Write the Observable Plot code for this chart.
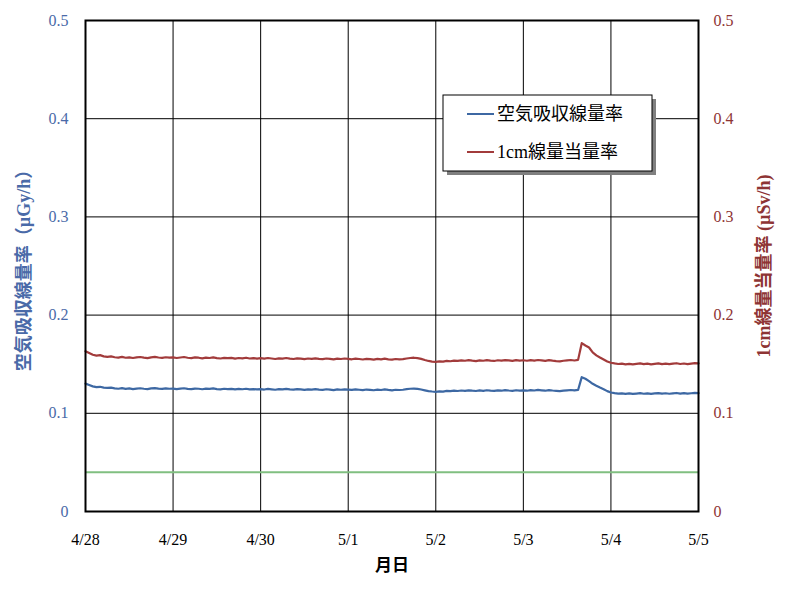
<!DOCTYPE html>
<html>
<head>
<meta charset="utf-8">
<script src="https://cdn.jsdelivr.net/npm/d3@7"></script>
<script src="https://cdn.jsdelivr.net/npm/@observablehq/plot@0.6"></script>
<style>
  html, body { margin: 0; padding: 0; background: #fff; }
</style>
</head>
<body>
<div id="chart"></div>
<script>
// ---- data (hourly readings, start 2011-04-28 00:00) ----
const startTime = Date.UTC(2011, 3, 28);
const dayTicks = ["4/28", "4/29", "4/30", "5/1", "5/2", "5/3", "5/4", "5/5"];
const yTicks = [0, 0.1, 0.2, 0.3, 0.4, 0.5];
const seriesNames = ["空気吸収線量率", "1cm線量当量率"];

// 空気吸収線量率 (µGy/h)
const airDose = [
  0.1302,0.1288,0.1274,0.1266,0.1270,0.1262,0.1258,0.1261,0.1254,0.1250,0.1256,0.1249,0.1253,0.1247,0.1252,0.1255,0.1250,0.1246,0.1253,0.1257,0.1251,0.1248,0.1254,0.1250,
  0.1252,0.1247,0.1251,0.1255,0.1249,0.1246,0.1252,0.1250,0.1245,0.1251,0.1248,0.1253,0.1247,0.1244,0.1250,0.1246,0.1249,0.1243,0.1248,0.1245,0.1250,0.1244,0.1247,0.1243,
  0.1246,0.1242,0.1248,0.1244,0.1240,0.1246,0.1243,0.1249,0.1244,0.1241,0.1247,0.1243,0.1238,0.1244,0.1241,0.1246,0.1242,0.1239,0.1245,0.1241,0.1236,0.1243,0.1240,0.1244,
  0.1241,0.1238,0.1244,0.1240,0.1236,0.1242,0.1239,0.1235,0.1241,0.1237,0.1243,0.1238,0.1234,0.1240,0.1237,0.1240,0.1246,0.1250,0.1252,0.1249,0.1242,0.1234,0.1226,0.1222,
  0.1219,0.1224,0.1221,0.1228,0.1225,0.1230,0.1227,0.1232,0.1229,0.1234,0.1230,0.1227,0.1233,0.1229,0.1235,0.1231,0.1228,0.1234,0.1230,0.1236,0.1232,0.1229,0.1235,0.1231,
  0.1234,0.1230,0.1236,0.1232,0.1238,0.1234,0.1230,0.1236,0.1232,0.1229,0.1226,0.1231,0.1234,0.1237,0.1233,0.1238,0.1368,0.1352,0.1328,0.1300,0.1280,0.1262,0.1245,0.1226,
  0.1212,0.1205,0.1200,0.1203,0.1198,0.1202,0.1197,0.1201,0.1205,0.1199,0.1203,0.1198,0.1202,0.1206,0.1200,0.1204,0.1199,0.1203,0.1207,0.1201,0.1205,0.1200,0.1204,0.1208,
  0.1206
];

// 1cm線量当量率 (µSv/h)
const doseEquiv = [
  0.1632,0.1614,0.1596,0.1588,0.1592,0.1580,0.1575,0.1579,0.1571,0.1567,0.1574,0.1566,0.1570,0.1563,0.1569,0.1573,0.1567,0.1562,0.1570,0.1575,0.1568,0.1564,0.1571,0.1567,
  0.1569,0.1563,0.1568,0.1573,0.1566,0.1562,0.1569,0.1566,0.1560,0.1567,0.1563,0.1569,0.1562,0.1558,0.1565,0.1561,0.1564,0.1557,0.1563,0.1560,0.1566,0.1558,0.1562,0.1557,
  0.1561,0.1556,0.1563,0.1558,0.1553,0.1560,0.1557,0.1563,0.1557,0.1553,0.1560,0.1556,0.1551,0.1558,0.1554,0.1560,0.1555,0.1551,0.1558,0.1554,0.1549,0.1556,0.1553,0.1558,
  0.1554,0.1550,0.1557,0.1553,0.1548,0.1555,0.1551,0.1547,0.1554,0.1549,0.1556,0.1550,0.1546,0.1553,0.1549,0.1551,0.1558,0.1563,0.1566,0.1562,0.1554,0.1543,0.1533,0.1527,
  0.1524,0.1529,0.1526,0.1534,0.1530,0.1537,0.1533,0.1539,0.1535,0.1541,0.1536,0.1532,0.1539,0.1535,0.1542,0.1537,0.1533,0.1540,0.1536,0.1542,0.1538,0.1534,0.1541,0.1537,
  0.1540,0.1535,0.1542,0.1537,0.1543,0.1539,0.1534,0.1541,0.1536,0.1532,0.1529,0.1535,0.1539,0.1543,0.1538,0.1544,0.1714,0.1690,0.1670,0.1620,0.1590,0.1568,0.1548,0.1528,
  0.1515,0.1508,0.1502,0.1506,0.1499,0.1504,0.1498,0.1503,0.1508,0.1500,0.1505,0.1499,0.1504,0.1509,0.1501,0.1506,0.1500,0.1505,0.1510,0.1502,0.1507,0.1501,0.1506,0.1511,
  0.1509
];

// reference level (green line)
const referenceLevel = 0.04;

// ---- build ----
const HOUR = 3600e3, DAY = 86400e3;
const toRows = arr => arr.map((v, i) => ({ t: new Date(startTime + i * HOUR), v }));
const airRows = toRows(airDose);
const eqRows = toRows(doseEquiv);
const tickDates = dayTicks.map((_, i) => new Date(startTime + i * DAY));

const BLUE = "#3d68a3", RED = "#a23b3b", GREEN = "#80bf80";
const BLUE_TXT = "#4a6aa8", RED_TXT = "#8e3434";
const SERIF = '"Liberation Serif", "Noto Sans CJK JP", serif';
const CJK = '"Liberation Serif", "Noto Sans CJK JP", sans-serif';

const chart = Plot.plot({
  width: 786,
  height: 591,
  marginLeft: 85,
  marginRight: 88,
  marginTop: 20,
  marginBottom: 80,
  style: { fontFamily: SERIF, fontSize: "16px", background: "#fff" },
  x: { type: "utc", domain: [tickDates[0], tickDates[tickDates.length - 1]], label: null },
  y: { domain: [0, 0.5], label: null },
  marks: [
    Plot.gridX(tickDates, { stroke: "#000", strokeOpacity: 1, strokeWidth: 1 }),
    Plot.gridY(yTicks.slice(1, -1), { stroke: "#000", strokeOpacity: 1, strokeWidth: 1 }),
    Plot.ruleY([referenceLevel], { stroke: GREEN, strokeWidth: 2 }),
    Plot.lineY(airRows, { x: "t", y: "v", stroke: BLUE, strokeWidth: 2.2 }),
    Plot.lineY(eqRows, { x: "t", y: "v", stroke: RED, strokeWidth: 2.2 }),
    Plot.frame({ stroke: "#000", strokeWidth: 2 }),
    Plot.axisY(yTicks, { anchor: "left", tickSize: 0, tickPadding: 17, fill: BLUE_TXT, fontSize: 16,
      tickFormat: d => d === 0 ? "0" : d.toFixed(1), label: null }),
    Plot.axisY(yTicks, { anchor: "right", tickSize: 0, tickPadding: 15, fill: RED_TXT, fontSize: 16,
      tickFormat: d => d === 0 ? "0" : d.toFixed(1), label: null }),
    Plot.axisX(tickDates, { tickSize: 0, tickPadding: 22, fill: "#000", fontSize: 16,
      tickFormat: (d, i) => dayTicks[i], label: null }),
    Plot.text(["空気吸収線量率（µGy/h）"], { text: d => d, frameAnchor: "left", textAnchor: "middle",
      dx: -61, rotate: -90, fill: BLUE_TXT, fontSize: 18, fontFamily: CJK, fontWeight: "bold" }),
    Plot.text(["1cm線量当量率 (µSv/h)"], { text: d => d, frameAnchor: "right", textAnchor: "middle",
      dx: 66, rotate: -90, fill: RED_TXT, fontSize: 18, fontFamily: CJK, fontWeight: "bold" }),
    Plot.text(["月日"], { text: d => d, frameAnchor: "bottom", dy: 59, fill: "#000",
      fontSize: 17, fontFamily: CJK, fontWeight: "bold" })
  ]
});

document.getElementById("chart").appendChild(chart);

// ---- legend (inside plot area) ----
const svg = d3.select(chart);
const lg = svg.append("g").attr("transform", "translate(443,95)");
lg.append("rect").attr("x", 4).attr("y", 4).attr("width", 209).attr("height", 76).attr("fill", "#808080");
lg.append("rect").attr("x", 0).attr("y", 0).attr("width", 209).attr("height", 76)
  .attr("fill", "#fff").attr("stroke", "#000").attr("stroke-width", 1);
const legendColors = [BLUE, RED];
seriesNames.forEach((name, i) => {
  const yy = 19 + i * 38;
  lg.append("line").attr("x1", 24).attr("x2", 51).attr("y1", yy).attr("y2", yy)
    .attr("stroke", legendColors[i]).attr("stroke-width", 2);
  lg.append("text").attr("x", 54).attr("y", yy).attr("dy", "0.36em").attr("text-anchor", "start")
    .attr("font-family", CJK).attr("font-size", 18).attr("fill", "#000").text(name);
});
</script>
</body>
</html>
